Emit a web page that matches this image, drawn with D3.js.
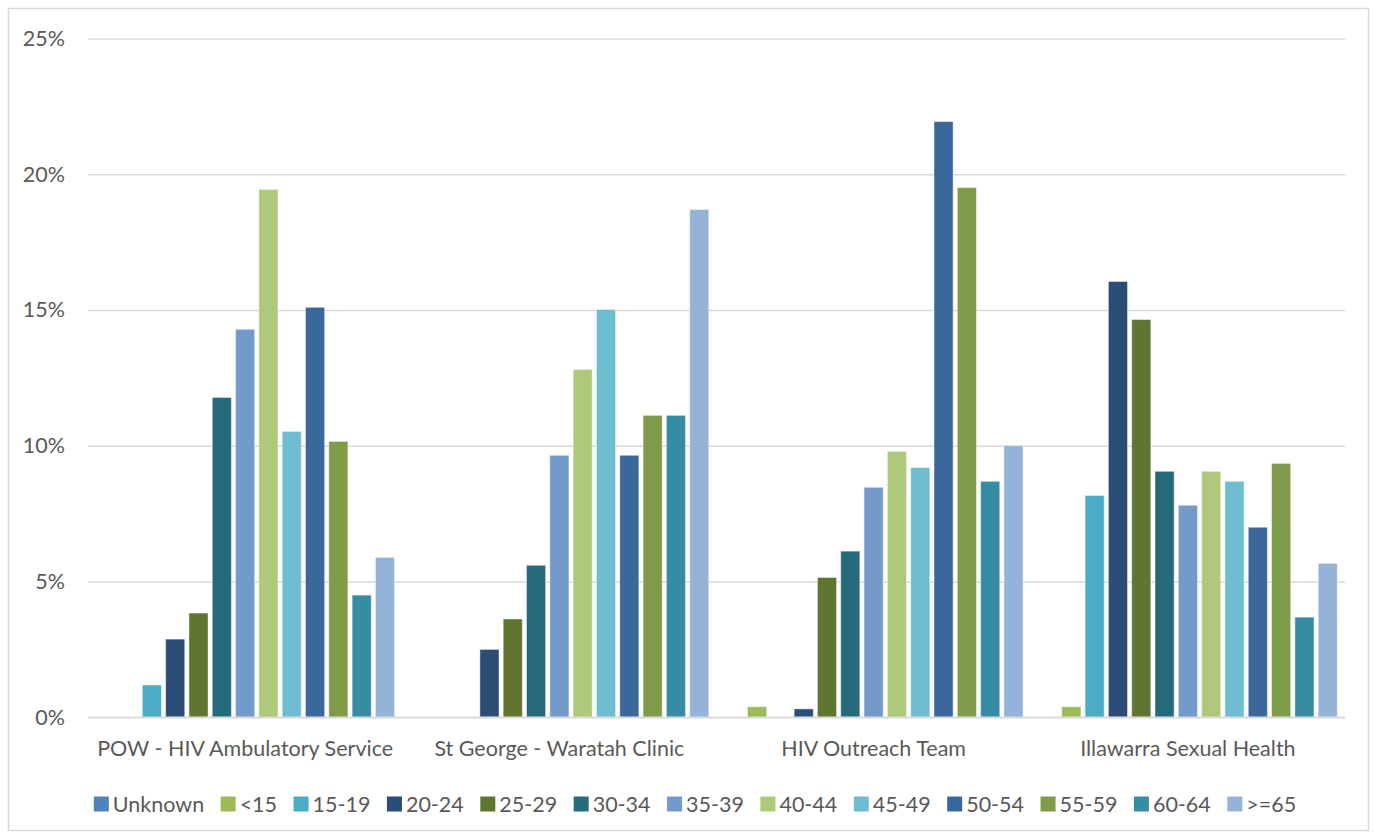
<!DOCTYPE html>
<html>
<head>
<meta charset="utf-8">
<script src="https://cdn.jsdelivr.net/npm/d3@7"></script>
<style>
  body { margin: 0; background: #fff; }
  svg { display: block; }
  text { font-family: Lato, "Open Sans", sans-serif; fill: #595959; }
</style>
</head>
<body>
<svg></svg>
<script>
const width = 1375;
const height = 837;
const margin = ({top: 38.5, right: 30, bottom: 120, left: 88});
const fontSize = 21.5;

const clinics = ["POW - HIV Ambulatory Service", "St George - Waratah Clinic", "HIV Outreach Team", "Illawarra Sexual Health"];
const ageGroups = ["Unknown", "<15", "15-19", "20-24", "25-29", "30-34", "35-39", "40-44", "45-49", "50-54", "55-59", "60-64", ">=65"];
const colors = ["#4f81bd", "#9bbb59", "#4bacc6", "#2c4d75", "#5f7530", "#276a7c", "#729aca", "#afc97a", "#6fbdd1", "#3a679c", "#7f9a48", "#358ca3", "#95b3d7"];

// percent of each clinic's clients, one array per clinic in age group order
const powValues = [0, 0, 1.19, 2.88, 3.84, 11.78, 14.29, 19.44, 10.53, 15.10, 10.16, 4.50, 5.89];
const stGeorgeValues = [0, 0, 0, 2.50, 3.62, 5.60, 9.65, 12.81, 15.02, 9.65, 11.12, 11.12, 18.70];
const outreachValues = [0, 0.39, 0, 0.31, 5.15, 6.12, 8.47, 9.79, 9.20, 21.94, 19.51, 8.69, 10.01];
const illawarraValues = [0, 0.39, 8.17, 16.05, 14.65, 9.06, 7.81, 9.06, 8.69, 7.00, 9.35, 3.69, 5.67];
const yTicks = [0, 5, 10, 15, 20, 25];

const table = clinics.map((c, i) => ({
    clinic: c,
    values: [powValues, stGeorgeValues, outreachValues, illawarraValues][i]
}));

const svg = d3.select("svg")
    .attr("width", width)
    .attr("height", height)
    .attr("viewBox", [0, 0, width, height]);

// chart frame
svg.append("rect")
    .attr("x", 8.5).attr("y", 8.5)
    .attr("width", 1360).attr("height", 822)
    .attr("fill", "#fff")
    .attr("stroke", "#d9d9d9")
    .attr("stroke-width", 1.5);

const plotRight = 1345;
const plotBottom = 717.3;

const x0 = d3.scaleBand()
    .domain(clinics)
    .range([margin.left, plotRight]);

const x1 = d3.scaleBand()
    .domain(ageGroups)
    .range([0, x0.bandwidth()])
    .paddingInner(0.18)
    .paddingOuter(0.33);

const y = d3.scaleLinear()
    .domain([0, 25])
    .range([plotBottom, margin.top]);

const color = d3.scaleOrdinal().domain(ageGroups).range(colors);

// gridlines + y labels
const yAxis = g => g
    .attr("transform", `translate(${margin.left},0)`)
    .call(d3.axisLeft(y).tickValues(yTicks).tickFormat(d => d + "%").tickSize(0).tickPadding(23))
    .call(g => g.select(".domain").remove())
    .call(g => g.selectAll(".tick text")
        .attr("font-size", fontSize)
        .attr("font-family", null)
        .attr("fill", "#595959"))
    .call(g => g.selectAll(".tick line").clone()
        .attr("x2", plotRight - margin.left)
        .attr("stroke", "#d9d9d9")
        .attr("stroke-width", 1.5));

svg.append("g").call(yAxis);

// bars
svg.append("g")
    .selectAll("g")
    .data(table)
    .join("g")
    .attr("transform", d => `translate(${x0(d.clinic)},0)`)
    .selectAll("rect")
    .data(d => d.values.map((v, i) => ({key: ageGroups[i], value: v})))
    .join("rect")
    .attr("x", d => x1(d.key))
    .attr("y", d => y(d.value))
    .attr("width", x1.bandwidth())
    .attr("height", d => y(0) - y(d.value))
    .attr("fill", d => color(d.key))
    .attr("stroke", "#fff")
    .attr("stroke-opacity", 0.45)
    .attr("stroke-width", 1);

// x-axis line
svg.append("line")
    .attr("x1", margin.left).attr("x2", plotRight)
    .attr("y1", y(0)).attr("y2", y(0))
    .attr("stroke", "#d9d9d9")
    .attr("stroke-width", 1.5);

// x category labels
const xAxis = g => g
    .attr("transform", `translate(0,${plotBottom})`)
    .call(d3.axisBottom(x0).tickSize(0).tickPadding(23))
    .call(g => g.select(".domain").remove())
    .call(g => g.selectAll(".tick text")
        .attr("font-size", fontSize)
        .attr("font-family", null)
        .attr("fill", "#595959"));

svg.append("g").call(xAxis);

// legend
const legend = svg.append("g");
const legendY = 804;
const legendGap = 16.5;
const items = legend.selectAll("g")
    .data(ageGroups)
    .join("g");

items.append("rect")
    .attr("width", 15)
    .attr("height", 15)
    .attr("y", -7.5)
    .attr("fill", d => color(d));

items.append("text")
    .attr("x", 19)
    .attr("dy", "0.35em")
    .attr("font-size", fontSize)
    .text(d => d);

let lx = 0;
items.each(function() {
    const w = this.querySelector("text").getComputedTextLength();
    d3.select(this).attr("transform", `translate(${lx},0)`);
    lx += 19 + w + legendGap;
});
const legendWidth = lx - legendGap;
legend.attr("transform", `translate(${695 - legendWidth / 2},${legendY})`);
</script>
</body>
</html>
